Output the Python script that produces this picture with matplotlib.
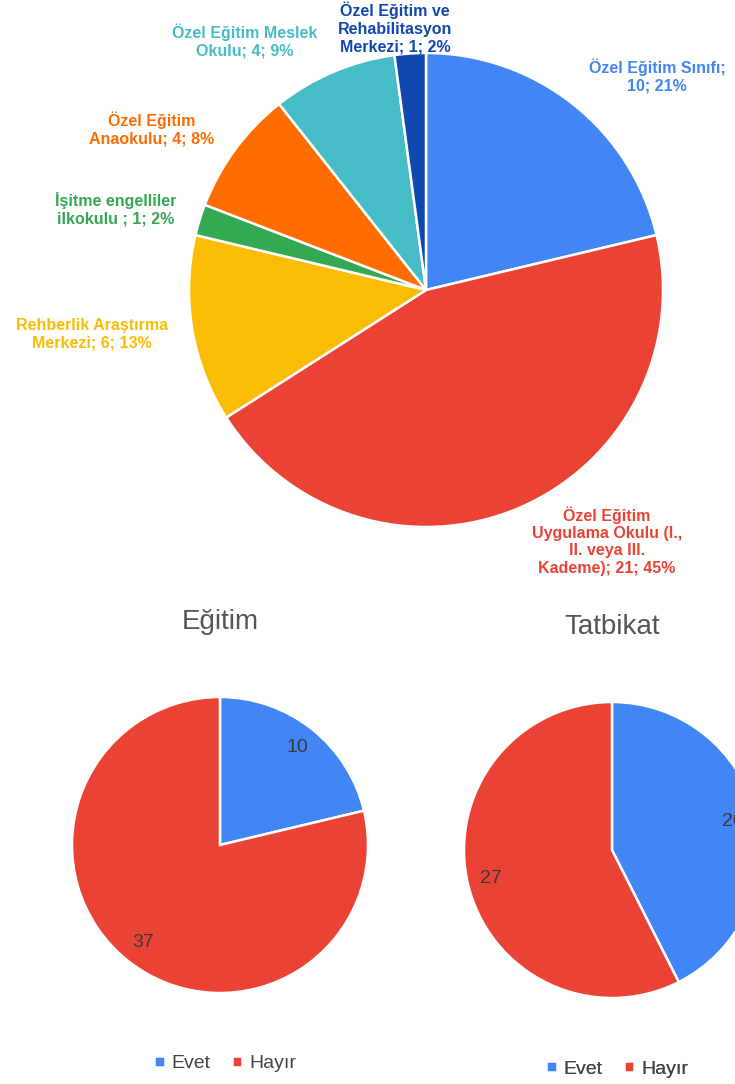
import matplotlib
matplotlib.use("Agg")
import matplotlib.pyplot as plt

# Top pie: kurum türleri
kurumlar = [
    "Özel Eğitim Sınıfı",
    "Özel Eğitim\nUygulama Okulu (I.,\nII. veya III.\nKademe)",
    "Rehberlik Araştırma\nMerkezi",
    "İşitme engelliler\nilkokulu ",
    "Özel Eğitim\nAnaokulu",
    "Özel Eğitim Meslek\nOkulu",
    "Özel Eğitim ve\nRehabilitasyon\nMerkezi",
]
kurum_sayi = [10, 21, 6, 1, 4, 4, 1]
kurum_yuzde = [21, 45, 13, 2, 8, 9, 2]
kurum_renk = ["#4285F4", "#EA4335", "#FBBC04", "#34A853", "#FF6D01", "#46BDC6", "#1148B0"]

# Bottom pies
cevaplar = ["Evet", "Hayır"]
egitim = [10, 37]
tatbikat = [20, 27]
cevap_renk = ["#4285F4", "#EA4335"]

W, H = 735, 1084
fig = plt.figure(figsize=(W / 100, H / 100), dpi=100)
ax = fig.add_axes([0, 0, 1, 1])
plt.rcParams["font.family"] = ["Liberation Sans", "DejaVu Sans"]


def Y(y):
    # image rows (top-down) -> data y (bottom-up)
    return H - y


wp = dict(edgecolor="white", linewidth=1.8)

# top pie
ax.pie(kurum_sayi, colors=kurum_renk, startangle=90, counterclock=False,
       center=(426, Y(290)), radius=237, wedgeprops=wp)

# top labels (manual placement like the original)
label_pos = [(657, 76), (607, 541), (92, 334), (116, 209), (152, 129), (245, 41), (395, 28)]
for i, (name, v, p, c) in enumerate(zip(kurumlar, kurum_sayi, kurum_yuzde, kurum_renk)):
    sep = "\n" if i == 0 else " "
    txt = f"{name};{sep}{v}; {p}%"
    x, y = label_pos[i]
    ax.text(x, Y(y), txt, color=c, fontsize=11.5, fontweight="bold",
            ha="center", va="center", linespacing=1.2)


def small_pie(vals, cx, cy, title, ty, ly):
    tot = sum(vals)
    wedges, _, autotexts = ax.pie(
        vals, colors=cevap_renk, startangle=90, counterclock=False,
        center=(cx, Y(cy)), radius=148, wedgeprops=wp,
        autopct=lambda p: f"{round(p * tot / 100)}", pctdistance=0.84,
        textprops=dict(color="#3a3a3a", fontsize=14))
    ax.text(cx, Y(ty), title, ha="center", va="center", fontsize=20,
            color="#555555")
    leg = ax.legend(wedges, cevaplar, loc="center", bbox_to_anchor=(cx + 5, Y(ly)),
                    bbox_transform=ax.transData, ncol=2, frameon=False,
                    handlelength=0.55, handleheight=0.55, handletextpad=0.35,
                    columnspacing=1.1, prop=dict(size=14),
                    labelcolor="#444444")
    ax.add_artist(leg)


small_pie(egitim, 220, 845, "Eğitim", 622, 1064)
small_pie(tatbikat, 612, 850, "Tatbikat", 627, 1069)

ax.set_xlim(0, W)
ax.set_ylim(0, H)
ax.set_aspect("equal")
ax.axis("off")

fig.savefig("out.png", dpi=100, facecolor="white")
